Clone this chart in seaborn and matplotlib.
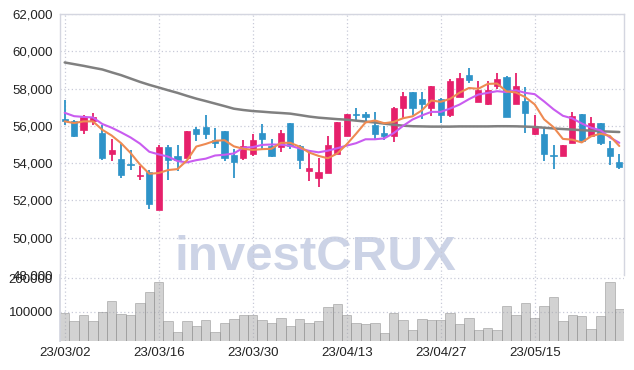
import matplotlib
matplotlib.use("Agg")
import matplotlib.pyplot as plt
import seaborn as sns
import pandas as pd

dates = ["23/03/02", "23/03/03", "23/03/06", "23/03/07", "23/03/08", "23/03/09", "23/03/10",
         "23/03/13", "23/03/14", "23/03/15", "23/03/16", "23/03/17", "23/03/20", "23/03/21",
         "23/03/22", "23/03/23", "23/03/24", "23/03/27", "23/03/28", "23/03/29", "23/03/30",
         "23/03/31", "23/04/03", "23/04/04", "23/04/05", "23/04/06", "23/04/07", "23/04/10",
         "23/04/11", "23/04/12", "23/04/13", "23/04/14", "23/04/17", "23/04/18", "23/04/19",
         "23/04/20", "23/04/21", "23/04/24", "23/04/25", "23/04/26", "23/04/27", "23/04/28",
         "23/05/02", "23/05/03", "23/05/04", "23/05/08", "23/05/09", "23/05/10", "23/05/11",
         "23/05/12", "23/05/15", "23/05/16", "23/05/17", "23/05/18", "23/05/19", "23/05/22",
         "23/05/23", "23/05/24", "23/05/25", "23/05/26"]

opens = [56390, 56280, 55800, 56280, 55600, 54500, 54200, 53930, 53290, 53500,
         51490, 54880, 54400, 54270, 55810, 55920, 55220, 55710, 54420, 54270,
         54510, 55620, 54900, 54860, 56150, 54900, 53570, 53200, 53470, 54510,
         55460, 56640, 56620, 56030, 55600, 55460, 56960, 57790, 57430, 56980,
         57460, 56600, 57550, 58720, 57280, 57160, 58140, 58630, 57190, 57320,
         55580, 55580, 54400, 54380, 55080, 56620, 55440, 56150, 54810, 54040]
highs = [57410, 56330, 56600, 56710, 56030, 55290, 55040, 54720, 53860, 53610,
         54970, 54950, 55000, 55720, 55940, 56600, 55900, 55720, 54770, 55220,
         55540, 56120, 55310, 55800, 56160, 54950, 54590, 54290, 55440, 56200,
         56630, 56960, 56750, 56750, 55980, 56990, 57790, 57800, 57790, 58140,
         57480, 58490, 58810, 59080, 58410, 58410, 58810, 58680, 58810, 58090,
         56600, 55940, 54990, 55000, 56750, 56630, 56480, 56160, 55190, 54470]
lows = [56030, 55400, 55580, 56030, 54150, 54110, 53210, 53610, 53110, 51530,
        51460, 53110, 53580, 54250, 55190, 55290, 54830, 54090, 53210, 54150,
        54360, 54720, 54330, 54590, 54770, 53700, 53030, 52710, 53450, 54480,
        55440, 56300, 56260, 55220, 55220, 55110, 56390, 56570, 56390, 56510,
        56150, 56480, 57540, 58310, 57270, 57100, 57970, 56460, 57180, 55620,
        55490, 54090, 53700, 54370, 55070, 55080, 55420, 54950, 53910, 53660]
closes = [56260, 55460, 56480, 56500, 54270, 54720, 53380, 53880, 53390, 51800,
          54880, 54180, 54150, 55710, 55540, 55540, 55080, 54270, 54060, 54900,
          55220, 55290, 54400, 55620, 54900, 54180, 53730, 53500, 54990, 56190,
          56620, 56600, 56480, 55560, 55440, 56980, 57590, 56960, 57160, 58130,
          56600, 58400, 58590, 58450, 57910, 57910, 58500, 56480, 58130, 56690,
          55940, 54500, 54360, 54990, 56510, 55190, 56150, 55080, 54380, 53790]
ma5 = [56240, 56150, 56240, 56240, 55790, 55480, 55070, 54550, 53930, 53430,
       53470, 53630, 53680, 54140, 54890, 55030, 55200, 55230, 54900, 54770,
       54710, 54750, 54770, 55090, 55090, 54880, 54570, 54390, 54260, 54520,
       55010, 55580, 56180, 56290, 56140, 56210, 56410, 56510, 56830, 57360,
       57290, 57450, 57780, 58030, 57990, 58250, 58270, 57850, 57790, 57540,
       57150, 56350, 55930, 55300, 55260, 55110, 55440, 55580, 55460, 54920]
ma10 = [56700, 56520, 56480, 56450, 56100, 55900, 55650, 55380, 55050, 54610,
        54470, 54350, 54110, 54040, 54160, 54240, 54410, 54450, 54520, 54830,
        54860, 54980, 55000, 54990, 54930, 54790, 54660, 54580, 54670, 54800,
        54940, 55070, 55280, 55280, 55330, 55610, 56000, 56340, 56560, 56750,
        56750, 56930, 57140, 57430, 57680, 57770, 57860, 57810, 57910, 57770,
        57700, 57310, 56890, 56540, 56400, 56130, 55900, 55760, 55380, 55090]
ma60 = [59400, 59310, 59220, 59120, 59025, 58870, 58720, 58540, 58360, 58200,
        58056, 57910, 57770, 57610, 57460, 57330, 57195, 57060, 56920, 56850,
        56795, 56760, 56720, 56690, 56655, 56580, 56500, 56440, 56400, 56360,
        56330, 56280, 56230, 56180, 56120, 56060, 56010, 55980, 55970, 55960,
        55960, 55960, 55970, 55970, 55970, 55970, 55980, 55980, 55975, 55960,
        55940, 55900, 55860, 55830, 55800, 55770, 55740, 55710, 55690, 55670]
volumes = [95000, 71000, 89000, 71000, 98000, 131000, 93000, 89000, 125000, 158000,
           188000, 71000, 38000, 71000, 56000, 74000, 38000, 65000, 77000, 89000,
           89000, 74000, 65000, 80000, 56000, 77000, 65000, 71000, 112000, 122000,
           89000, 65000, 62000, 65000, 35000, 95000, 74000, 44000, 77000, 74000,
           74000, 95000, 62000, 80000, 44000, 50000, 44000, 116000, 89000, 125000,
           80000, 116000, 143000, 71000, 89000, 86000, 47000, 86000, 188000, 107000]

price_ticks = [48000, 50000, 52000, 54000, 56000, 58000, 60000, 62000]
vol_ticks = [100000, 200000]
date_tick_idx = [0, 10, 20, 30, 40, 50]

UP = "#e6206b"
DOWN = "#2e93c8"

df = pd.DataFrame({"idx": list(range(len(dates))), "date": dates, "open": opens,
                   "high": highs, "low": lows, "close": closes, "ma5": ma5,
                   "ma10": ma10, "ma60": ma60, "volume": volumes})

sns.set_theme(style="white")
plt.rcParams["font.family"] = ["Liberation Sans Narrow", "Liberation Sans", "DejaVu Sans"]

fig = plt.figure(figsize=(6.34, 3.70), dpi=100, facecolor="white")
L, R = 60 / 634, 624 / 634
ax = fig.add_axes([L, 1 - 275 / 370, R - L, (275 - 14) / 370])
axv = fig.add_axes([L, 1 - 341 / 370, R - L, (341 - 275) / 370])
for a in (ax, axv):
    a.set_facecolor("none")

# watermark
fig.text(175 / 634, 1 - 270 / 370, "investCRUX", fontsize=35.5, fontweight="bold",
         color="#ccd3e6", family=["Liberation Sans", "DejaVu Sans"],
         ha="left", va="baseline", zorder=-1)

# volume bars
sns.barplot(data=df, x="idx", y="volume", ax=axv, color="#a6a6a6", alpha=0.5,
            width=1.0, edgecolor="#8c8c8c", linewidth=0.7, saturation=1)

# candles
colors = [UP if c >= o else DOWN for o, c in zip(df["open"], df["close"])]
ax.vlines(df["idx"], df["low"], df["high"], colors=colors, linewidth=1.3, zorder=3)
bottoms = [min(o, c) for o, c in zip(df["open"], df["close"])]
heights = [max(abs(c - o), 60) for o, c in zip(df["open"], df["close"])]
ax.bar(df["idx"], heights, bottom=bottoms, width=0.64, color=colors,
       edgecolor=colors, linewidth=0.5, zorder=4)

# moving averages
sns.lineplot(data=df, x="idx", y="ma60", ax=ax, color="#808080", linewidth=1.8, zorder=5)
sns.lineplot(data=df, x="idx", y="ma10", ax=ax, color="#c95cf0", linewidth=1.5, zorder=6)
sns.lineplot(data=df, x="idx", y="ma5", ax=ax, color="#ee8a52", linewidth=1.5, zorder=7)

grid_kw = dict(color="#c8cad8", linestyle=(0, (1, 2)), linewidth=0.9)
for a in (ax, axv):
    a.set_xlim(-0.5, len(dates) - 0.5)
    a.set_xticks(date_tick_idx)
    a.grid(True, axis="both", **grid_kw)
    a.set_axisbelow(True)
    a.set_xlabel("")
    a.set_ylabel("")
    a.tick_params(length=0, labelsize=9.5, colors="#222222")

ax.set_ylim(48000, 62000)
ax.set_yticks(price_ticks)
ax.set_yticklabels([f"{v:,}" for v in price_ticks])
ax.set_xticklabels([])
ax.tick_params(axis="y", pad=5)

axv.set_ylim(12000, 209000)
axv.set_yticks(vol_ticks)
axv.set_yticklabels([str(v) for v in vol_ticks])
axv.set_xticklabels([dates[i] for i in date_tick_idx])
axv.tick_params(axis="y", pad=5)
axv.tick_params(axis="x", pad=4)

for s in ["top", "left", "right"]:
    ax.spines[s].set_visible(True)
    ax.spines[s].set_color("#d4d6e0")
    ax.spines[s].set_linewidth(1.0)
ax.spines["bottom"].set_visible(False)
for s in ["top", "right", "bottom"]:
    axv.spines[s].set_visible(False)
axv.spines["left"].set_visible(True)
axv.spines["left"].set_color("#d4d6e0")

fig.savefig("out.png", dpi=100, facecolor="white")
